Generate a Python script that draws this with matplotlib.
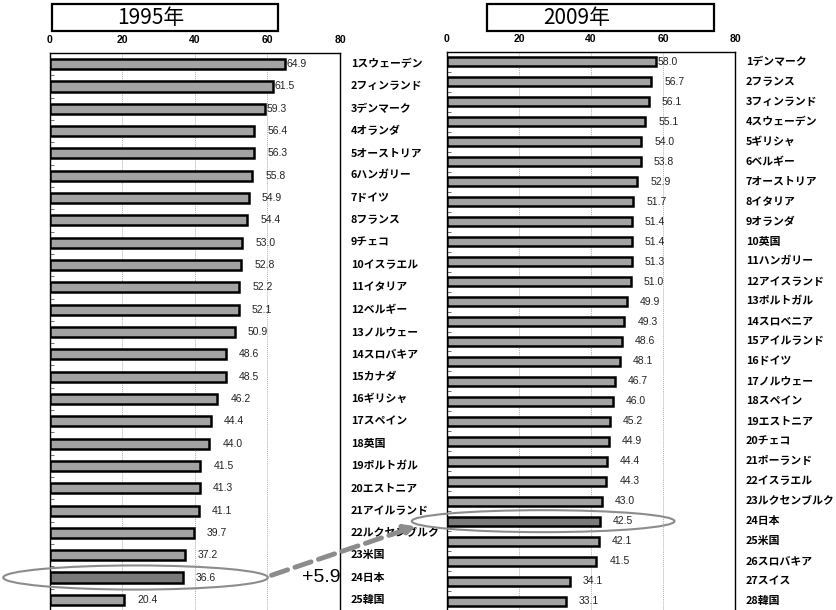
import matplotlib
matplotlib.use("Agg")
import matplotlib.pyplot as plt
from matplotlib.patches import Ellipse, Rectangle

plt.rcParams['font.family'] = ['Liberation Sans', 'Noto Sans CJK JP', 'DejaVu Sans']

# ---- data ----
names_1995 = ["スウェーデン", "フィンランド", "デンマーク", "オランダ", "オーストリア",
              "ハンガリー", "ドイツ", "フランス", "チェコ", "イスラエル", "イタリア",
              "ベルギー", "ノルウェー", "スロバキア", "カナダ", "ギリシャ", "スペイン",
              "英国", "ポルトガル", "エストニア", "アイルランド", "ルクセンブルク",
              "米国", "日本", "韓国"]
values_1995 = [64.9, 61.5, 59.3, 56.4, 56.3, 55.8, 54.9, 54.4, 53.0, 52.8, 52.2,
               52.1, 50.9, 48.6, 48.5, 46.2, 44.4, 44.0, 41.5, 41.3, 41.1, 39.7,
               37.2, 36.6, 20.4]

names_2009 = ["デンマーク", "フランス", "フィンランド", "スウェーデン", "ギリシャ",
              "ベルギー", "オーストリア", "イタリア", "オランダ", "英国", "ハンガリー",
              "アイスランド", "ポルトガル", "スロベニア", "アイルランド", "ドイツ",
              "ノルウェー", "スペイン", "エストニア", "チェコ", "ポーランド",
              "イスラエル", "ルクセンブルク", "日本", "米国", "スロバキア", "スイス",
              "韓国"]
values_2009 = [58.0, 56.7, 56.1, 55.1, 54.0, 53.8, 52.9, 51.7, 51.4, 51.4, 51.3,
               51.0, 49.9, 49.3, 48.6, 48.1, 46.7, 46.0, 45.2, 44.9, 44.4, 44.3,
               43.0, 42.5, 42.1, 41.5, 34.1, 33.1]

titles = ["1995年", "2009年"]
xticks = [0, 20, 40, 60, 80]
highlight = "日本"
diff_label = "+5.9"

W, H = 837, 610
fig = plt.figure(figsize=(W / 100, H / 100), dpi=100)


def fx(px):
    return px / W


def fy(py):
    return 1 - py / H


ax1 = fig.add_axes([fx(50), fy(611), fx(340) - fx(50), fy(53) - fy(611)])
ax2 = fig.add_axes([fx(447), fy(611), fx(735) - fx(447), fy(52) - fy(611)])

BAR = "#a3a3a3"
DARK = "#7a7a7a"
GRAYLINE = "#8c8c8c"
JP = ['Noto Sans CJK JP', 'DejaVu Sans']


def draw(ax, names, values):
    n = len(values)
    ys = list(range(n))
    colors = [DARK if nm == highlight else BAR for nm in names]
    ax.barh(ys, values, height=0.45, color=colors, edgecolor="black",
            linewidth=1.8, zorder=3)
    ax.set_xlim(0, 80)
    ax.set_ylim(n - 0.5, -0.5)
    ax.xaxis.tick_top()
    ax.set_xticks(xticks)
    ax.set_xticklabels([str(t) for t in xticks], fontsize=7.5, fontweight="bold")
    ax.tick_params(axis="x", length=0, pad=6)
    ax.set_yticks([])
    ax.set_yticks([i - 0.5 for i in range(n)], minor=True)
    ax.tick_params(axis="y", which="minor", direction="in", length=3,
                   width=0.6, color="#555555")
    for g in xticks[1:-1]:
        ax.axvline(g, color="#b0b0b0", lw=0.7, ls=(0, (1, 1)), zorder=1)
    for s in ax.spines.values():
        s.set_linewidth(1.0)
        s.set_color("black")
    for i, (nm, v) in enumerate(zip(names, values)):
        off = 0.4 if v >= 57.5 else 3.6
        ax.text(v + off, i, f"{v:.1f}", fontsize=7.5, va="center", ha="left",
                color="#222222", zorder=4)
        ax.text(83.0, i, f"{i + 1}{nm}", fontsize=7.8, fontweight="bold",
                family=JP, va="center", ha="left", clip_on=False)


draw(ax1, names_1995, values_1995)
draw(ax2, names_2009, values_2009)

# title boxes
for (x0, x1, tx), t in zip([(52, 278, 151), (487, 714, 577)], titles):
    fig.patches.append(Rectangle((fx(x0), fy(31)), fx(x1) - fx(x0), fy(4) - fy(31),
                                 transform=fig.transFigure, fill=False,
                                 edgecolor="black", linewidth=1.6))
    fig.text(fx(tx), fy(18), t, fontsize=15, ha="center", va="center", family=JP)

# highlight ellipses
j1 = names_1995.index(highlight)
j2 = names_2009.index(highlight)
ax1.add_patch(Ellipse((23.6, j1), 73, 1.08, fill=False, edgecolor=GRAYLINE,
                      lw=1.5, clip_on=False, zorder=5))
ax2.add_patch(Ellipse((26.7, j2), 73, 1.1, fill=False, edgecolor=GRAYLINE,
                      lw=1.5, clip_on=False, zorder=5))

# arrow
ax2.annotate("", xy=(-8.6, j2 + 0.25), xycoords="data",
             xytext=(61.1, j1 - 0.1), textcoords=ax1.transData,
             arrowprops=dict(arrowstyle="-|>", lw=3.5, color=GRAYLINE,
                             linestyle=(0, (3.5, 1.6)), mutation_scale=16,
                             shrinkA=0, shrinkB=0),
             annotation_clip=False, zorder=6)

ax1.text(69.5, j1, diff_label, fontsize=14, ha="left", va="center")

fig.savefig("out.png", dpi=100)
